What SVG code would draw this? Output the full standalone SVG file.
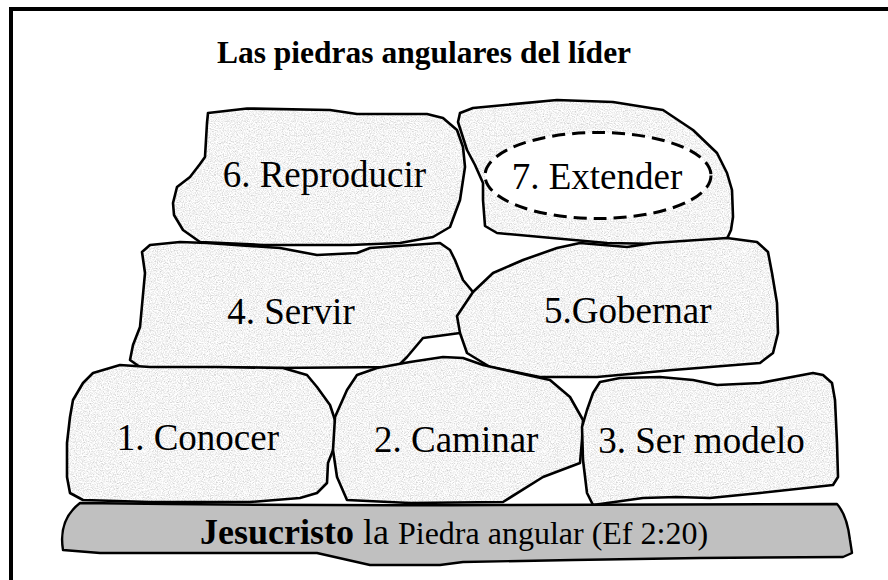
<svg xmlns="http://www.w3.org/2000/svg" width="888" height="580" viewBox="0 0 888 580">
<defs>
<filter id="grain" x="0" y="0" width="100%" height="100%">
<feTurbulence type="fractalNoise" baseFrequency="0.85" numOctaves="3" seed="7" stitchTiles="stitch" result="n"/>
<feColorMatrix in="n" type="matrix" values="0.8 0 0 0 0.5  0.8 0 0 0 0.5  0.8 0 0 0 0.5  0 0 0 0 1"/>
</filter>
<pattern id="granite" patternUnits="userSpaceOnUse" width="200" height="200">
<rect width="200" height="200" fill="#e6e6e6" filter="url(#grain)"/>
</pattern>
</defs>
<style>
.stone{fill:url(#granite);stroke:#000;stroke-width:2.6;stroke-linejoin:round}
.lbl{font-family:"Liberation Serif","Times New Roman",serif;font-size:37px;fill:#000}
.title{font-family:"Liberation Serif","Times New Roman",serif;font-size:31.5px;font-weight:bold;fill:#000}
.bar{fill:#c0c0c0;stroke:#000;stroke-width:2.4;stroke-linejoin:round}
</style>
<rect width="888" height="580" fill="#fff"/>
<path d="M11,580 V9 H888" fill="none" stroke="#000" stroke-width="4"/>
<text class="title" x="424" y="63" text-anchor="middle">Las piedras angulares del líder</text>

<g id="stone6">
<path class="stone" d="M208,113 L247,108.5 L330,110 L357,114 L427,114 L443,118 L457,130 L463,147 L465,167 L460,200 L450,227 L433,237 L400,243 L350,245 L263,245 L200,242 L183,230 L174,215 L173,203 L177,187 L190,177 L200,164 L205,157 L207,123 Z"/>
<text class="lbl" x="222.7" y="187">6. Reproducir</text>
</g>
<g id="stone7">
<path class="stone" d="M460,113 L473,108 L557,100 L613,102 L663,110 L693,130 L717,153 L727,173 L732,190 L733,217 L731,230 L726,241 L717,245 L607,243 L497,233 L485,226 L483,200 L483,183 L475,165 L467,150 L458,122 Z"/>
<ellipse cx="598" cy="175.5" rx="113" ry="43" fill="#fff" stroke="#000" stroke-width="3" stroke-dasharray="13 7"/>
<text class="lbl" x="511.7" y="189">7. Extender</text>
</g>
<g id="stone4">
<path class="stone" d="M142,252 L150,245 L180,242 L207,243 L280,248 L317,255 L357,253 L370,248 L440,243 L450,250 L455,260 L463,280 L473,292 L480,310 L460,333 L423,338 L407,357 L397,367 L273,368 L140,367 L130,360 L133,345 L140,327 L145,273 Z"/>
<text class="lbl" x="227.3" y="324">4. Servir</text>
</g>
<g id="stone5">
<path class="stone" d="M457,316 L473,292 L493,273 L523,260 L557,248 L580,243 L627,247 L653,243 L727,238 L757,242 L768,252 L772,273 L777,303 L778,333 L773,353 L760,363 L673,370 L597,377 L540,377 L490,367 L467,353 L460,333 Z"/>
<text class="lbl" x="544" y="323.3">5.Gobernar</text>
</g>
<g id="stone1">
<path class="stone" d="M93,373 L120,365 L150,367 L217,367 L283,368 L307,375 L317,387 L330,405 L335,420 L337,440 L328,463 L327,483 L317,493 L300,498 L250,502 L150,502 L83,500 L70,493 L67,477 L67,443 L70,417 L73,400 L83,383 Z"/>
<text class="lbl" x="116.7" y="450">1. Conocer</text>
</g>
<g id="stone2">
<path class="stone" d="M357,375 L377,368 L410,362 L443,357 L463,358 L483,365 L527,375 L550,380 L570,397 L583,420 L582,440 L580,463 L543,477 L503,502 L410,503 L347,500 L337,477 L333,450 L335,417 L347,390 Z"/>
<text class="lbl" x="374" y="451.7">2. Caminar</text>
</g>
<g id="stone3">
<path class="stone" d="M600,382 L620,378 L660,377 L693,380 L717,385 L760,383 L813,373 L823,375 L832,383 L835,400 L837,443 L838,477 L833,485 L760,493 L710,498 L677,497 L643,498 L593,505 L587,493 L583,460 L582,427 L587,410 L593,393 Z"/>
<text class="lbl" x="598.3" y="452.7">3. Ser modelo</text>
</g>
<g id="cornerstone">
<path class="bar" d="M80,503 Q300,506 500,505 L837,504 Q847,515 850,540 L852,553 L843,557 L700,558 L573,560 L463,562 L440,565 L370,565 L317,553 L100,553 L63,550 Q58,520 80,503 Z"/>
<text x="200" y="544" font-family="Liberation Serif,Times New Roman,serif" fill="#000"><tspan font-weight="bold" font-size="36">Jesucristo</tspan><tspan font-size="36"> la </tspan><tspan font-size="32">Piedra angular (Ef 2:20)</tspan></text>
</g>
<g id="connectors"/>
</svg>
